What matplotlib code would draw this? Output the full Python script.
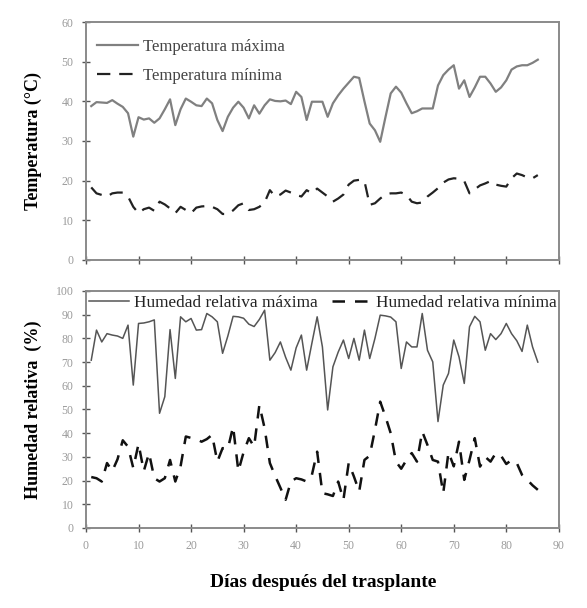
import matplotlib
matplotlib.use("Agg")
import matplotlib.pyplot as plt
import numpy as np

plt.rcParams['font.family'] = ['Liberation Serif', 'DejaVu Serif']

# ===============================================================
# DATOS

dias = np.arange(1, 87)

temp_max = [38.8, 39.8, 39.7, 39.6, 40.3, 39.4, 38.6, 37.0, 31.1, 36.0,
            35.4, 35.7, 34.6, 35.7, 38.0, 40.5, 34.0, 38.0, 40.7, 39.9,
            39.0, 38.8, 40.7, 39.5, 35.3, 32.5, 36.1, 38.4, 39.9, 38.4,
            35.7, 39.0, 36.9, 39.0, 40.5, 40.1, 40.0, 40.2, 39.3, 42.4,
            41.1, 35.3, 39.9, 39.9, 39.9, 36.1, 39.5, 41.5, 43.2, 44.7,
            46.2, 45.9, 40.0, 34.4, 32.7, 29.8, 36.0, 42.0, 43.7, 42.2,
            39.5, 37.0, 37.5, 38.2, 38.2, 38.2, 44.0, 46.6, 48.0, 49.1,
            43.2, 45.3, 41.1, 43.5, 46.2, 46.2, 44.5, 42.4, 43.5, 45.3,
            48.0, 48.8, 49.1, 49.1, 49.7, 50.5]

temp_min = [18.3, 16.8, 16.4, 16.0, 16.8, 17.0, 17.0, 16.0, 13.4, 11.8,
            12.8, 13.2, 12.4, 14.7, 14.0, 13.0, 11.8, 13.4, 12.6, 11.8,
            13.2, 13.5, 13.6, 13.4, 12.8, 11.6, 11.6, 12.5, 13.8, 14.3,
            12.6, 12.8, 13.4, 14.5, 17.6, 16.0, 16.5, 17.5, 17.0, 16.4,
            16.0, 17.6, 16.8, 18.0, 17.0, 16.0, 14.7, 15.5, 16.5, 19.0,
            20.0, 20.2, 19.9, 13.9, 14.3, 15.5, 16.5, 16.8, 16.8, 17.0,
            16.4, 14.7, 14.3, 14.5, 16.0, 17.0, 18.1, 19.5, 20.3, 20.6,
            20.5, 19.9, 16.8, 17.8, 18.8, 19.3, 19.9, 19.0, 18.7, 18.5,
            20.6, 21.8, 21.4, 20.8, 20.6, 21.4]

hr_max = [70.8, 83.5, 78.5, 82.0, 81.4, 81.0, 80.0, 85.6, 60.3, 86.3,
          86.5, 87.0, 87.8, 48.4, 55.4, 83.7, 63.1, 89.1, 87.0, 88.4,
          83.5, 83.7, 90.5, 89.1, 87.0, 73.7, 81.0, 89.3, 89.1, 88.5,
          86.0, 85.0, 88.0, 91.9, 70.8, 74.0, 78.5, 72.0, 66.6, 76.0,
          81.4, 66.6, 78.0, 89.1, 76.4, 49.8, 68.0, 74.2, 79.3, 71.5,
          80.0, 70.8, 83.5, 71.5, 80.0, 89.8, 89.5, 89.0, 87.0, 67.3,
          78.5, 76.4, 76.4, 90.5, 75.0, 70.1, 44.9, 60.3, 65.2, 79.3,
          72.2, 61.0, 84.9, 89.3, 87.0, 75.0, 82.0, 79.5, 82.0, 86.3,
          82.0, 79.0, 74.5, 85.6, 76.4, 70.0]

hr_min = [21.5, 21.0, 19.6, 27.4, 24.0, 29.0, 37.0, 34.3, 25.3, 35.5,
          24.0, 31.6, 21.0, 19.6, 21.0, 28.7, 19.6, 26.0, 38.6, 38.0,
          37.5, 36.4, 37.5, 39.3, 28.0, 33.7, 33.4, 42.8, 24.0, 32.0,
          37.9, 34.3, 51.9, 42.1, 27.4, 22.0, 17.0, 11.9, 19.6, 21.0,
          20.5, 19.6, 22.4, 32.2, 14.7, 14.2, 13.5, 19.6, 11.9, 27.4,
          21.7, 15.4, 28.7, 30.5, 41.4, 53.3, 47.0, 40.0, 28.0, 25.0,
          28.7, 31.6, 28.0, 40.7, 35.0, 28.7, 28.0, 14.7, 32.0, 26.0,
          36.4, 20.3, 28.7, 37.9, 25.9, 30.0, 28.0, 31.6, 30.5, 27.0,
          28.7, 27.4, 22.4, 20.3, 18.0, 16.1]

x_ticks = np.arange(0, 100, 10)

# ===============================================================
# FIGURA

fig = plt.figure(figsize=(5.87, 6.08), dpi=100)
ax1 = fig.add_axes([0.1465, 0.5724, 0.8055, 0.3914])
ax2 = fig.add_axes([0.1465, 0.1316, 0.8055, 0.3898])

spine_color = '#8a8a8a'
tick_color = '#9a9a9a'


def estilo(ax):
    for s in ax.spines.values():
        s.set_color(spine_color)
        s.set_linewidth(1.4)
    ax.tick_params(direction='inout', length=6, width=1.0, color='#555555',
                   labelcolor=tick_color, labelsize=8.5, pad=6)
    ax.set_xlim(0, 90)
    ax.set_xticks(x_ticks)


# Panel superior: temperatura
ax1.plot(dias, temp_max, color='#808080', lw=1.6, label='Temperatura máxima')
ax1.plot(dias, temp_min, color='#222222', lw=1.6, dashes=(6, 4),
         label='Temperatura mínima')
estilo(ax1)
ax1.set_ylim(0, 60)
ax1.set_yticks(np.arange(0, 70, 10))
ax1.tick_params(labelbottom=False)
ax1.set_ylabel('Temperatura (°C)', fontsize=13, fontweight='bold', labelpad=14)
ax1.legend(loc='upper left', frameon=False, fontsize=12, handlelength=2.45,
           handletextpad=0.3, labelspacing=0.8, borderpad=0, borderaxespad=0,
           bbox_to_anchor=(0.024, 0.93), labelcolor='#444444')

# Panel inferior: humedad relativa
ax2.plot(dias, hr_max, color='#555555', lw=1.1, label='Humedad relativa máxima')
ax2.plot(dias, hr_min, color='#111111', lw=1.8, dashes=(5, 4),
         label='Humedad relativa mínima')
estilo(ax2)
ax2.set_ylim(0, 100)
ax2.set_yticks(np.arange(0, 110, 10))
ax2.set_ylabel('Humedad relativa  (%)', fontsize=13, fontweight='bold', labelpad=10)
ax2.legend(loc='upper left', ncol=2, frameon=False, fontsize=12.4,
           handlelength=2.3, handletextpad=0.3, columnspacing=0.8,
           borderpad=0, borderaxespad=0, bbox_to_anchor=(0.007, 0.985),
           labelcolor='#222222')

fig.text(0.55, 0.035, 'Días después del trasplante', ha='center',
         fontsize=14, fontweight='bold')

fig.savefig('out.png', dpi=100)
